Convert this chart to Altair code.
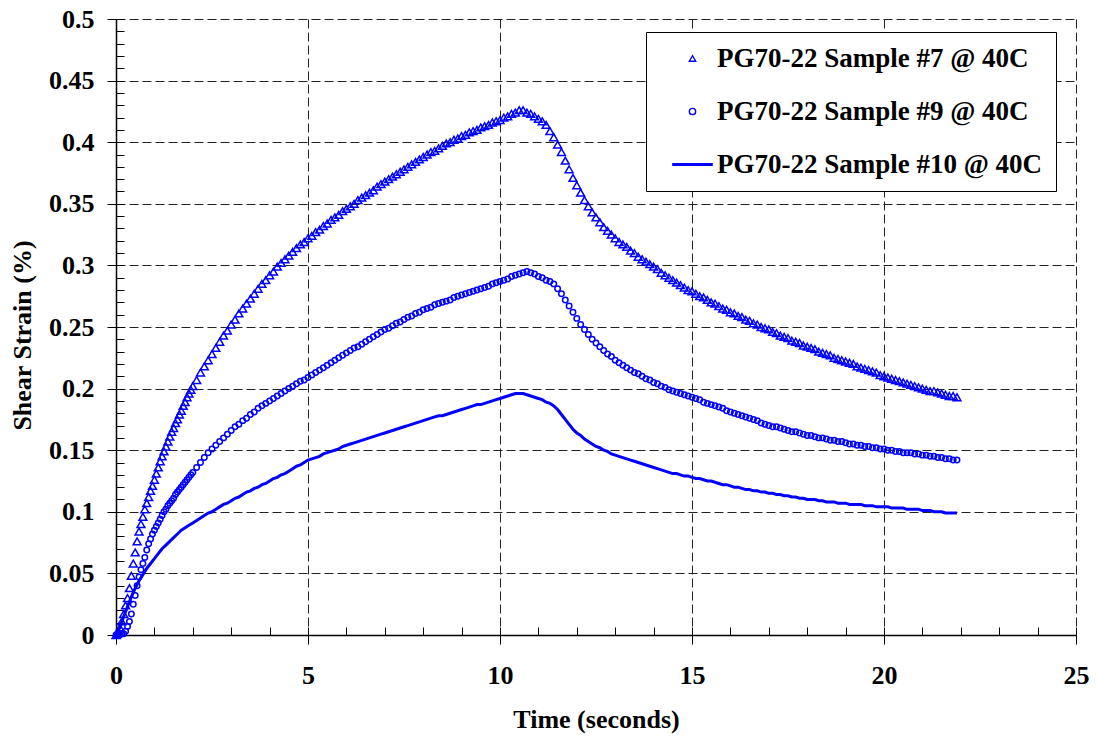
import altair as alt
import pandas as pd

# ---------------- data ----------------
names = ["PG70-22 Sample #7 @ 40C", "PG70-22 Sample #9 @ 40C", "PG70-22 Sample #10 @ 40C"]

# marker series: 0.05 s sampling for 0-1.95 s, then 0.1 s sampling for 2.0-21.9 s
s7_early = [
    0.000, 0.002, 0.006, 0.011, 0.017, 0.024, 0.030, 0.038, 0.048, 0.058,
    0.067, 0.076, 0.084, 0.090, 0.096, 0.102, 0.107, 0.112, 0.117, 0.121,
    0.126, 0.131, 0.136, 0.141, 0.145, 0.149, 0.153, 0.157, 0.161, 0.165,
    0.168, 0.172, 0.175, 0.179, 0.182, 0.186, 0.189, 0.193, 0.196, 0.199,
]
s7_late = [
    0.202, 0.207, 0.213, 0.218, 0.223, 0.228, 0.233, 0.238, 0.243, 0.247,
    0.252, 0.256, 0.261, 0.265, 0.269, 0.273, 0.277, 0.281, 0.285, 0.288,
    0.292, 0.295, 0.299, 0.302, 0.305, 0.308, 0.311, 0.314, 0.317, 0.319,
    0.322, 0.324, 0.327, 0.329, 0.332, 0.334, 0.337, 0.339, 0.341, 0.344,
    0.346, 0.348, 0.350, 0.353, 0.355, 0.357, 0.359, 0.361, 0.364, 0.366,
    0.368, 0.370, 0.372, 0.374, 0.376, 0.378, 0.380, 0.382, 0.384, 0.386,
    0.388, 0.390, 0.392, 0.393, 0.395, 0.397, 0.399, 0.400, 0.402, 0.403,
    0.405, 0.406, 0.408, 0.409, 0.410, 0.412, 0.413, 0.414, 0.416, 0.417,
    0.418, 0.420, 0.421, 0.423, 0.424, 0.426, 0.426, 0.424, 0.423, 0.421,
    0.419, 0.417, 0.414, 0.409, 0.404, 0.398, 0.392, 0.385, 0.378, 0.371,
    0.365, 0.359, 0.353, 0.348, 0.343, 0.339, 0.335, 0.331, 0.328, 0.325,
    0.322, 0.319, 0.317, 0.315, 0.312, 0.310, 0.307, 0.305, 0.303, 0.301,
    0.299, 0.297, 0.294, 0.292, 0.290, 0.288, 0.286, 0.284, 0.282, 0.280,
    0.279, 0.277, 0.275, 0.274, 0.272, 0.270, 0.269, 0.267, 0.265, 0.264,
    0.262, 0.261, 0.259, 0.258, 0.256, 0.255, 0.253, 0.252, 0.250, 0.249,
    0.248, 0.246, 0.245, 0.243, 0.242, 0.241, 0.239, 0.238, 0.237, 0.235,
    0.234, 0.233, 0.232, 0.230, 0.229, 0.228, 0.227, 0.225, 0.224, 0.223,
    0.222, 0.221, 0.220, 0.218, 0.217, 0.216, 0.215, 0.214, 0.213, 0.211,
    0.210, 0.209, 0.208, 0.207, 0.206, 0.205, 0.204, 0.203, 0.202, 0.201,
    0.200, 0.199, 0.198, 0.198, 0.197, 0.196, 0.195, 0.194, 0.194, 0.193,
]

s9_early = [
    0.000, 0.000, 0.000, 0.001, 0.001, 0.003, 0.007, 0.011, 0.017, 0.025,
    0.032, 0.040, 0.047, 0.053, 0.058, 0.063, 0.069, 0.074, 0.078, 0.082,
    0.085, 0.088, 0.091, 0.094, 0.097, 0.100, 0.102, 0.105, 0.107, 0.109,
    0.111, 0.114, 0.116, 0.118, 0.120, 0.122, 0.124, 0.126, 0.128, 0.130,
]
s9_late = [
    0.132, 0.136, 0.140, 0.144, 0.148, 0.151, 0.154, 0.157, 0.160, 0.163,
    0.166, 0.169, 0.171, 0.174, 0.176, 0.179, 0.181, 0.184, 0.186, 0.188,
    0.190, 0.192, 0.194, 0.196, 0.198, 0.200, 0.202, 0.204, 0.206, 0.207,
    0.209, 0.211, 0.213, 0.215, 0.217, 0.219, 0.221, 0.223, 0.225, 0.227,
    0.229, 0.231, 0.233, 0.234, 0.236, 0.238, 0.240, 0.242, 0.244, 0.246,
    0.248, 0.249, 0.251, 0.253, 0.254, 0.256, 0.258, 0.259, 0.261, 0.262,
    0.264, 0.265, 0.266, 0.268, 0.269, 0.270, 0.271, 0.272, 0.274, 0.275,
    0.276, 0.277, 0.278, 0.279, 0.280, 0.281, 0.282, 0.283, 0.285, 0.286,
    0.287, 0.288, 0.289, 0.291, 0.292, 0.293, 0.294, 0.295, 0.294, 0.293,
    0.291, 0.290, 0.288, 0.287, 0.285, 0.281, 0.277, 0.272, 0.267, 0.262,
    0.257, 0.252, 0.248, 0.244, 0.240, 0.237, 0.234, 0.231, 0.228, 0.226,
    0.223, 0.221, 0.219, 0.217, 0.215, 0.213, 0.212, 0.210, 0.208, 0.207,
    0.205, 0.204, 0.202, 0.201, 0.199, 0.198, 0.197, 0.196, 0.195, 0.194,
    0.193, 0.192, 0.191, 0.189, 0.188, 0.187, 0.186, 0.185, 0.184, 0.182,
    0.181, 0.180, 0.179, 0.178, 0.177, 0.176, 0.175, 0.174, 0.172, 0.171,
    0.170, 0.169, 0.169, 0.168, 0.167, 0.166, 0.165, 0.165, 0.164, 0.163,
    0.162, 0.162, 0.161, 0.160, 0.160, 0.159, 0.158, 0.158, 0.157, 0.157,
    0.156, 0.155, 0.155, 0.154, 0.154, 0.153, 0.153, 0.152, 0.152, 0.151,
    0.151, 0.150, 0.150, 0.149, 0.149, 0.148, 0.148, 0.148, 0.147, 0.147,
    0.146, 0.146, 0.145, 0.145, 0.144, 0.144, 0.143, 0.143, 0.142, 0.142,
]

# solid-line series: 0.1 s sampling, 0.0-21.9 s
s10 = [
    0.000, 0.006, 0.015, 0.023, 0.031, 0.038, 0.044, 0.049, 0.054, 0.058,
    0.062, 0.066, 0.070, 0.073, 0.076, 0.079, 0.082, 0.085, 0.087, 0.089,
    0.091, 0.093, 0.095, 0.097, 0.099, 0.100, 0.102, 0.104, 0.106, 0.107,
    0.109, 0.111, 0.112, 0.114, 0.116, 0.117, 0.119, 0.120, 0.122, 0.123,
    0.125, 0.127, 0.128, 0.130, 0.131, 0.133, 0.135, 0.137, 0.138, 0.140,
    0.142, 0.143, 0.144, 0.145, 0.147, 0.148, 0.149, 0.150, 0.151, 0.153,
    0.154, 0.155, 0.156, 0.157, 0.158, 0.159, 0.160, 0.161, 0.162, 0.163,
    0.164, 0.165, 0.166, 0.167, 0.168, 0.169, 0.170, 0.171, 0.172, 0.173,
    0.174, 0.175, 0.176, 0.177, 0.178, 0.178, 0.179, 0.180, 0.181, 0.182,
    0.183, 0.184, 0.185, 0.186, 0.187, 0.187, 0.188, 0.189, 0.190, 0.191,
    0.192, 0.193, 0.194, 0.195, 0.196, 0.196, 0.196, 0.195, 0.194, 0.193,
    0.192, 0.191, 0.189, 0.188, 0.186, 0.183, 0.179, 0.175, 0.171, 0.167,
    0.164, 0.162, 0.159, 0.157, 0.155, 0.153, 0.152, 0.150, 0.149, 0.147,
    0.146, 0.145, 0.144, 0.143, 0.142, 0.141, 0.140, 0.139, 0.138, 0.137,
    0.136, 0.135, 0.134, 0.133, 0.132, 0.131, 0.131, 0.130, 0.129, 0.129,
    0.128, 0.127, 0.127, 0.126, 0.125, 0.125, 0.124, 0.123, 0.122, 0.122,
    0.121, 0.120, 0.120, 0.119, 0.118, 0.118, 0.117, 0.117, 0.116, 0.116,
    0.115, 0.115, 0.114, 0.114, 0.113, 0.113, 0.112, 0.112, 0.111, 0.111,
    0.110, 0.110, 0.110, 0.109, 0.109, 0.108, 0.108, 0.108, 0.107, 0.107,
    0.107, 0.106, 0.106, 0.106, 0.106, 0.105, 0.105, 0.105, 0.104, 0.104,
    0.104, 0.104, 0.103, 0.103, 0.103, 0.103, 0.102, 0.102, 0.102, 0.102,
    0.101, 0.101, 0.101, 0.100, 0.100, 0.100, 0.099, 0.099, 0.099, 0.099,
]

x_ticks = [0, 5, 10, 15, 20, 25]
y_ticks = [0, 0.05, 0.1, 0.15, 0.2, 0.25, 0.3, 0.35, 0.4, 0.45, 0.5]
x_minor = list(range(26))
y_minor = [round(i * 0.01, 2) for i in range(51)]

# ---------------- tables ----------------
t_marker = [round(i * 0.05, 2) for i in range(len(s7_early))] + \
           [round(2.0 + i * 0.1, 1) for i in range(len(s7_late))]
t_line = [round(i * 0.1, 1) for i in range(len(s10))]

df7 = pd.DataFrame({"t": t_marker, "v": s7_early + s7_late, "s": names[0]})
df9 = pd.DataFrame({"t": t_marker, "v": s9_early + s9_late, "s": names[1]})
df10 = pd.DataFrame({"t": t_line, "v": s10, "s": names[2]})

# ---------------- styling ----------------
FONT = "Liberation Serif"
BLUE = "#0000FF"
W, H = 960, 616
NBSP = "\u00a0"
# legend glyph for the solid-line series: a very flat closed path, stroked
LINE_GLYPH = "M-6.2,-0.26H6.2V0.26H-6.2Z"

x_scale = alt.Scale(domain=[0, 25], nice=False, zero=False)
y_scale = alt.Scale(domain=[0, 0.5], nice=False)
shape_scale = alt.Scale(domain=names, range=["triangle-up", "circle", LINE_GLYPH])

x_axis = alt.Axis(
    orient="bottom",
    values=x_ticks, format="d", grid=True, gridColor="#222222", gridDash=[9, 4],
    gridWidth=1, tickSize=9, tickColor="black", tickWidth=1, domainColor="black",
    domainWidth=1.5, labelFont=FONT, labelFontSize=26, labelFontWeight="bold",
    labelColor="black", labelPadding=18, labelFlush=False, labelOverlap=False,
    title="Time (seconds)", titleFont=FONT, titleFontSize=26, titleFontWeight="bold",
    titleColor="black", titleY=92, titleBaseline="alphabetic",
)
y_axis = alt.Axis(
    orient="left",
    values=y_ticks, format=".2~f", grid=True, gridColor="#222222", gridDash=[9, 4],
    gridWidth=1, tickSize=9, tickColor="black", tickWidth=1, domainColor="black",
    domainWidth=1.5, labelFont=FONT, labelFontSize=26, labelFontWeight="bold",
    labelColor="black", labelPadding=13, labelOverlap=False,
    title="Shear Strain (%)", titleFont=FONT, titleFontSize=26, titleFontWeight="bold",
    titleColor="black", titleX=-94, titleY=316, titleAngle=270,
    titleBaseline="middle", titleAlign="center",
)
x_minor_axis = alt.Axis(
    orient="bottom", values=x_minor, labels=False, domain=False, grid=False,
    tickSize=8, offset=-8, tickColor="black", tickWidth=1, title=None,
)
y_minor_axis = alt.Axis(
    orient="left", values=y_minor, labels=False, domain=False, grid=False,
    tickSize=8, offset=-8, tickColor="black", tickWidth=1, title=None,
)

legend = alt.Legend(
    title=None, orient="none", legendX=530, legendY=13, padding=13,
    symbolOffset=20, symbolSize=40, symbolStrokeWidth=1.4,
    fillColor="white", strokeColor="black",
    labelFont=FONT, labelFontSize=27, labelFontWeight="bold", labelColor="black",
    labelLimit=700, rowPadding=25, labelOffset=11,
    labelExpr="datum.label + '" + NBSP + "'",
    symbolStrokeColor=BLUE, symbolFillColor="transparent",
)

minor_layer = alt.Chart(df10).mark_point(opacity=0).encode(
    x=alt.X("t:Q", scale=x_scale, axis=x_minor_axis),
    y=alt.Y("v:Q", scale=y_scale, axis=y_minor_axis),
)

line_layer = alt.Chart(df10).mark_line(color=BLUE, strokeWidth=3).encode(
    x=alt.X("t:Q", scale=x_scale, axis=x_axis),
    y=alt.Y("v:Q", scale=y_scale, axis=y_axis),
)

tri_layer = alt.Chart(df7).mark_point(
    filled=False, color=BLUE, opacity=1, strokeWidth=1.5, size=62
).encode(
    x=alt.X("t:Q", scale=x_scale),
    y=alt.Y("v:Q", scale=y_scale),
    shape=alt.Shape("s:N", scale=shape_scale, sort=names, legend=legend),
)

circ_layer = alt.Chart(df9).mark_point(
    filled=False, color=BLUE, opacity=1, strokeWidth=1.5, size=30
).encode(
    x=alt.X("t:Q", scale=x_scale),
    y=alt.Y("v:Q", scale=y_scale),
    shape=alt.Shape("s:N", scale=shape_scale, sort=names, legend=legend),
)

data_layers = alt.layer(line_layer, circ_layer, tri_layer)

chart = (
    alt.layer(minor_layer, data_layers)
    .resolve_axis(x="independent", y="independent")
    .properties(
        width=W, height=H, background="white",
        padding={"left": 116, "top": 19, "right": 20, "bottom": 104},
        autosize=alt.AutoSizeParams(type="none"),
    )
    .configure_view(strokeWidth=0)
)

chart.save("out.html", embed_options={"renderer": "svg", "actions": False})
